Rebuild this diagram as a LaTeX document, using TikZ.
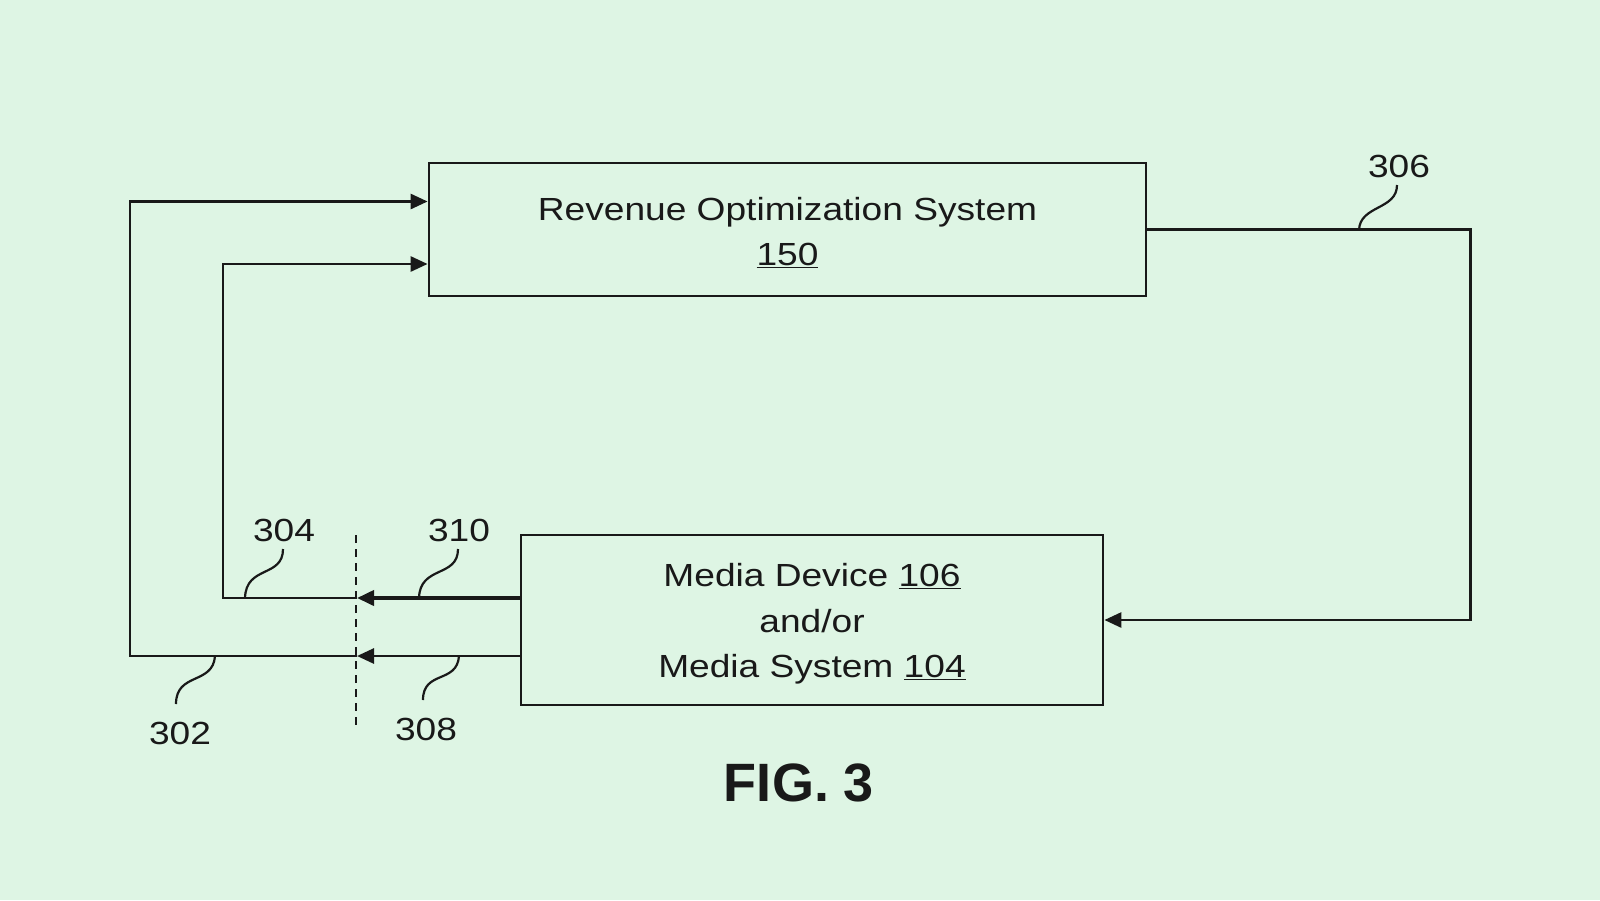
\documentclass[tikz,border=0pt]{standalone}
\usepackage{fontspec}
\setmainfont{Liberation Sans}[FakeStretch=1.16]
\newfontfamily\figfont{Liberation Sans}
\usetikzlibrary{arrows.meta,calc}
\definecolor{bg}{RGB}{222,245,228}
\definecolor{ink}{RGB}{25,25,25}
\begin{document}
\begin{tikzpicture}[x=1pt,y=-1pt,
  box/.style={draw=ink,line width=2.8pt,inner sep=0pt},
  boxtext/.style={align=center,font=\fontsize{32}{45.5}\selectfont,text=ink,inner sep=0pt},
  wire/.style={draw=ink,line width=2.8pt},
  arr/.style={wire,-{Triangle[length=17pt,width=15pt]}},
  lead/.style={draw=ink,line width=2.2pt},
  lbl/.style={font=\fontsize{32}{36}\selectfont,text=ink,inner sep=0pt}]
\fill[bg] (0,0) rectangle (1600,900);
\useasboundingbox (0,0) rectangle (1600,900);

\node[box,minimum width=717pt,minimum height=133pt] (ros) at (787.5,229.5) {};
\node[boxtext] (rostext) at ([yshift=-3pt]ros.center) {Revenue Optimization System\\\underline{150}};
\node[box,minimum width=582pt,minimum height=170pt] (media) at (812,620) {};
\node[boxtext] (mediatext) at ([yshift=-4pt]media.center) {Media Device \underline{106}\\and/or\\Media System \underline{104}};

% dashed boundary
\coordinate (dtop) at (356,535);
\coordinate (dbot) at (356,728);
\draw[ink,line width=2.2pt,dash pattern=on 8pt off 6pt] (dtop) -- (dbot);

\coordinate (d304) at (357,598);
\coordinate (d302) at (357,656);

% 302 / 308
\draw[arr] ([yshift=-36pt]media.west) -- (d302);
\draw[arr] (d302) -- ++(-227,0) |- ([yshift=28pt]ros.west);
% 304 / 310
\draw[arr,line width=3.8pt] ([yshift=22pt]media.west) -- (d304);
\draw[arr] (d304) -- ++(-134,0) |- ([yshift=-34.5pt]ros.west);
% 306
\draw[arr] (ros.east) -- ++(323,0) |- (media.east);

% labels and leaders
\node[lbl] (l304) at (284,530) {304};
\node[lbl] (l310) at (459,530) {310};
\node[lbl] (l302) at (180,733) {302};
\node[lbl] (l308) at (426,729) {308};
\node[lbl] (l306) at (1399,166) {306};

\draw[lead] (245,598) .. controls (246,565) and (283,578) .. (283,549);
\draw[lead] (419,598) .. controls (420,565) and (458,578) .. (458,549);
\draw[lead] (215,656) .. controls (213,685) and (176,672) .. (176,704);
\draw[lead] (459,656) .. controls (457,684) and (423,670) .. (423,700);
\draw[lead] (1359,230) .. controls (1360,205) and (1397,210) .. (1397,185);

\node[font=\figfont\bfseries\fontsize{54}{60}\selectfont,text=ink,inner sep=0pt] (fig) at (799,783) {FIG. 3};
\end{tikzpicture}
\end{document}
